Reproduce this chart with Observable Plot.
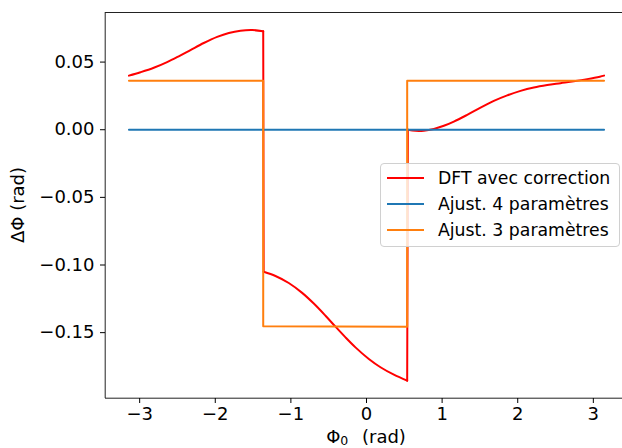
<!DOCTYPE html>
<html>
<head>
<meta charset="utf-8">
<script src="https://cdn.jsdelivr.net/npm/d3@7"></script>
<script src="https://cdn.jsdelivr.net/npm/@observablehq/plot@0.6"></script>
<style>
  html, body { margin: 0; padding: 0; background: #fff; }
  #wrap { position: relative; width: 622px; height: 448px; font-family: "DejaVu Sans", sans-serif; }
  #legend { position: absolute; left: 380px; top: 163px; width: 238px; height: 82px;
    border: 1px solid #d0d0d0; border-radius: 4px; background: rgba(255,255,255,0.8);
    box-sizing: content-box; }
  .item { position: absolute; left: 0; height: 20px; display: flex; align-items: center; }
  .item .sw { width: 37px; height: 2px; margin-left: 6px; margin-right: 14px; }
  .item .lb { font-size: 17.3px; color: #000; white-space: nowrap; line-height: 20px; }
</style>
</head>
<body>
<div id="wrap"></div>
<script>
// ---- data ----
const PI = Math.PI;
// Red: "DFT avec correction", three continuous pieces
const redX1 = [-PI, -2.989, -2.813, -2.637, -2.483, -2.328, -2.152, -1.975, -1.821, -1.667, -1.512, -1.366];
const redY1 = [0.0400, 0.0425, 0.0458, 0.0500, 0.0543, 0.0589, 0.0641, 0.0686, 0.0715, 0.0732, 0.0737, 0.0728];
const redX2 = [-1.360, -1.204, -1.028, -0.851, -0.697, -0.542, -0.410, -0.278, -0.146, 0.031, 0.185, 0.362, 0.538];
const redY2 = [-0.1050, -0.1081, -0.1133, -0.1206, -0.1285, -0.1375, -0.1456, -0.1535, -0.1609, -0.1695, -0.1756, -0.1811, -0.1855];
const redX3 = [0.547, 0.648, 0.758, 0.891, 1.023, 1.155, 1.332, 1.508, 1.684, 1.861, 2.037, 2.213, 2.390, 2.566, 2.742, 2.919, 3.086, PI];
const redY3 = [0.0000, -0.0008, -0.0007, 0.0006, 0.0029, 0.0060, 0.0110, 0.0163, 0.0213, 0.0254, 0.0287, 0.0312, 0.0330, 0.0344, 0.0358, 0.0374, 0.0392, 0.0400];
// Blue: "Ajust. 4 paramètres"
const blueX = [-PI, PI];
const blueY = [0, 0];
// Orange: "Ajust. 3 paramètres" (step)
const orangeX = [-PI, -1.366, -1.366, 0.538, 0.538, PI];
const orangeY = [0.0363, 0.0363, -0.1452, -0.1457, 0.0363, 0.0363];

const seriesNames = ["DFT avec correction", "Ajust. 4 paramètres", "Ajust. 3 paramètres"];
const seriesColors = ["#ff0000", "#1f77b4", "#ff7f0e"];

const xTicks = [-3, -2, -1, 0, 1, 2, 3];
const yTicks = [0.05, 0.00, -0.05, -0.10, -0.15];
const xLabel = ["Φ", "0", " (rad)"];
const yLabel = "ΔΦ (rad)";

// ---- build tables ----
const toRows = (xs, ys, seg) => xs.map((x, i) => ({x, y: ys[i], seg}));
const redSegs = [toRows(redX1, redY1, 1), toRows(redX2, redY2, 2), toRows(redX3, redY3, 3)];
const red = redSegs.flat();
// vertical jumps between consecutive pieces (line continuity as in the source)
const redJumps = [];
for (let i = 0; i < redSegs.length - 1; i++) {
  const a = redSegs[i][redSegs[i].length - 1], b = redSegs[i + 1][0];
  redJumps.push({x: a.x, y: a.y, k: i}, {x: b.x, y: b.y, k: i});
}
const blue = toRows(blueX, blueY, 0);
const orange = toRows(orangeX, orangeY, 0);

const all = [...red, ...blue, ...orange];
const [xmin, xmax] = d3.extent(all, d => d.x);
const [ymin, ymax] = d3.extent(all, d => d.y);
const px = (xmax - xmin) * 0.05, py = (ymax - ymin) * 0.05;
const xDom = [xmin - px, xmax + px];
const yDom = [ymin - py, ymax + py];

const W = 622, H = 448;
const chart = Plot.plot({
  width: W, height: H,
  marginLeft: 105, marginRight: 0, marginTop: 12, marginBottom: 50,
  style: {fontFamily: "DejaVu Sans", fontSize: "18px", color: "#000", background: "white"},
  x: {domain: xDom, range: [104.7, 627.3]},
  y: {domain: yDom, range: [397.7, 12]},
  marks: [
    Plot.line(red, {x: "x", y: "y", z: "seg", stroke: seriesColors[0], strokeWidth: 2, curve: "catmull-rom"}),
    Plot.line(redJumps, {x: "x", y: "y", z: "k", stroke: seriesColors[0], strokeWidth: 2}),
    Plot.line(blue, {x: "x", y: "y", stroke: seriesColors[1], strokeWidth: 2}),
    Plot.line(orange, {x: "x", y: "y", stroke: seriesColors[2], strokeWidth: 2}),
    Plot.ruleX([xDom[0]], {stroke: "#222", strokeWidth: 1}),
    Plot.ruleY([yDom[0]], {stroke: "#222", strokeWidth: 1}),
    Plot.ruleY([yDom[1]], {stroke: "#222", strokeWidth: 1}),
    Plot.axisX({ticks: xTicks, tickSize: 5, tickPadding: 4, fontSize: 18, label: null, tickFormat: d3.format("d")}),
    Plot.axisY({ticks: yTicks, tickSize: 5, tickPadding: 6, fontSize: 18, label: null, tickFormat: d3.format(".2f")})
  ]
});
const wrap = document.getElementById("wrap");
wrap.appendChild(chart);

// axis titles
const svg = d3.select(chart);
const xl = svg.append("text")
  .attr("x", 366).attr("y", 442.5)
  .attr("text-anchor", "middle")
  .attr("font-family", "DejaVu Sans").attr("font-size", 18).attr("fill", "#000");
xl.append("tspan").text(xLabel[0]);
xl.append("tspan").attr("font-size", 12.5).attr("dy", 2).text(xLabel[1]);
xl.append("tspan").attr("dy", -2).attr("dx", 8).text(xLabel[2]);
svg.append("text")
  .attr("transform", "translate(24,205) rotate(-90)")
  .attr("text-anchor", "middle")
  .attr("font-family", "DejaVu Sans").attr("font-size", 18).attr("fill", "#000")
  .text(yLabel);

// legend
const lg = d3.select(wrap).append("div").attr("id", "legend");
seriesNames.forEach((n, i) => {
  const it = lg.append("div").attr("class", "item").style("top", (3.5 + i * 26.3) + "px");
  it.append("div").attr("class", "sw").style("background", seriesColors[i]);
  it.append("div").attr("class", "lb").text(n);
});
</script>
</body>
</html>
